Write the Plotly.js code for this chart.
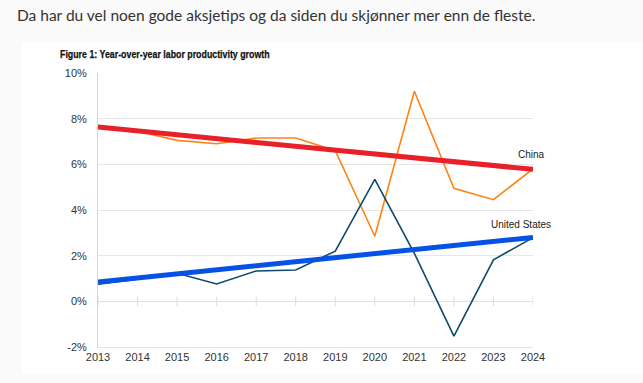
<!DOCTYPE html>
<html>
<head>
<meta charset="utf-8">
<script src="https://cdn.plot.ly/plotly-3.0.1.min.js"></script>
<style>
  html, body { margin: 0; padding: 0; background: #fafafa; width: 643px; height: 383px; overflow: hidden; }
  #head { position: absolute; left: 17px; top: 6px; font-family: Lato, "Open Sans", sans-serif; font-size: 15.5px; color: #333; white-space: nowrap; }
  #chart { position: absolute; left: 21px; top: 42px; width: 622px; height: 332px; background: #fff; }
  #ttl { position: absolute; left: 60px; top: 48px; font-family: "Liberation Sans", Arial, sans-serif; font-weight: bold; font-size: 10.5px; color: #111; white-space: nowrap; transform-origin: 0 0; transform: scaleX(0.84); z-index: 5; -webkit-text-stroke: 0.25px #111; }
</style>
</head>
<body>
<div id="head">Da har du vel noen gode aksjetips og da siden du skjønner mer enn de fleste.</div>
<div id="chart"></div>
<div id="ttl"></div>
<script>
const years = [2013, 2014, 2015, 2016, 2017, 2018, 2019, 2020, 2021, 2022, 2023, 2024];
const china = [7.7, 7.45, 7.05, 6.9, 7.15, 7.15, 6.6, 2.85, 9.2, 4.95, 4.45, 5.8];
const us = [0.75, 0.97, 1.23, 0.76, 1.33, 1.37, 2.2, 5.34, 2.1, -1.52, 1.82, 2.79];
const trendYears = [2013, 2024];
const chinaTrend = [7.63, 5.78];
const usTrend = [0.85, 2.8];
const yTicks = [-2, 0, 2, 4, 6, 8, 10];
const seriesLabels = ['China', 'United States'];
const chartTitle = 'Figure 1: Year-over-year labor productivity growth';

document.getElementById('ttl').textContent = chartTitle;

const traces = [
  { x: years, y: years.map(() => 0), mode: 'markers', hoverinfo: 'skip',
    marker: { symbol: 'line-ns', size: 7, line: { color: '#dcdcdc', width: 1 } } },
  { x: years, y: china, mode: 'lines', line: { color: '#ff8214', width: 1.6 } },
  { x: years, y: us, mode: 'lines', line: { color: '#0d4a6b', width: 1.6 } },
  { x: trendYears, y: chinaTrend, mode: 'lines', line: { color: '#e8202a', width: 5 } },
  { x: trendYears, y: usTrend, mode: 'lines', line: { color: '#0652e4', width: 5 } }
];

const layout = {
  width: 622, height: 332,
  margin: { l: 77, r: 110, t: 31, b: 27 },
  paper_bgcolor: '#ffffff', plot_bgcolor: '#ffffff',
  showlegend: false,
  font: { family: 'Liberation Sans, Arial, sans-serif', size: 11, color: '#333' },
  xaxis: {
    range: [2013, 2024], tickvals: years, ticktext: years.map(String),
    showgrid: false, zeroline: false, showline: true, linecolor: '#e3e3e3', linewidth: 1,
    ticks: '', fixedrange: true
  },
  yaxis: {
    range: [-2, 10], tickvals: yTicks, ticktext: yTicks.map(v => v + '%'),
    showgrid: true, gridcolor: '#e6e6e6', gridwidth: 1,
    zeroline: true, zerolinecolor: '#e0e0e0', zerolinewidth: 1,
    showline: true, linecolor: '#d6d6d6', linewidth: 1,
    ticks: '', ticklabelstandoff: 8, fixedrange: true
  },
  annotations: [
    { x: trendYears[1], y: chinaTrend[1], text: seriesLabels[0], showarrow: false,
      xanchor: 'right', yanchor: 'bottom', xshift: 14, yshift: 7,
      font: { family: 'Liberation Sans, Arial, sans-serif', size: 10, color: '#222' } },
    { x: trendYears[1], y: usTrend[1], text: seriesLabels[1], showarrow: false,
      xanchor: 'right', yanchor: 'bottom', xshift: 20, yshift: 5,
      font: { family: 'Liberation Sans, Arial, sans-serif', size: 10, color: '#222' } }
  ]
};

Plotly.newPlot('chart', traces, layout, { displayModeBar: false, staticPlot: true });
</script>
</body>
</html>
